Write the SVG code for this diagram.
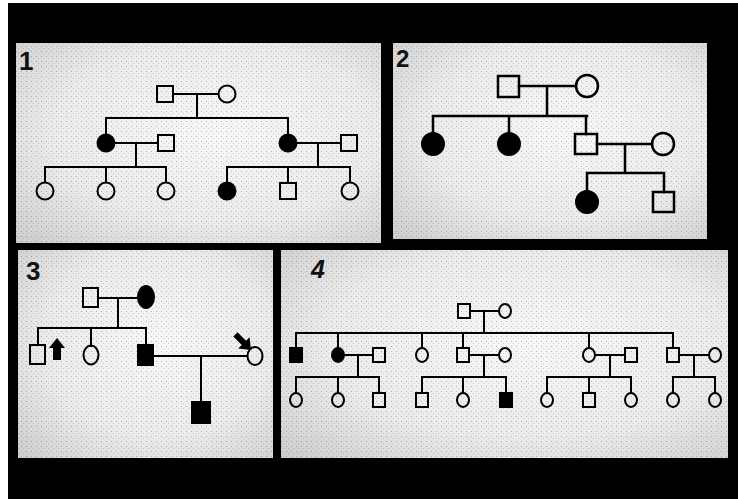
<svg xmlns="http://www.w3.org/2000/svg" width="738" height="499" viewBox="0 0 738 499">
<style>
.ln{stroke:#000;stroke-width:2;fill:none;stroke-linecap:square}
.ln2{stroke:#000;stroke-width:2.5;fill:none;stroke-linecap:square}
.o{fill:none;stroke:#000;stroke-width:2}
.o2{fill:none;stroke:#000;stroke-width:2.5}
.f{fill:#000;stroke:#000;stroke-width:2}
.lbl{font-family:"Liberation Sans",Arial,sans-serif;font-weight:bold;fill:#111}
</style>
<defs>
<radialGradient id="bg" cx="0.55" cy="0.45" r="0.75">
<stop offset="0" stop-color="#f7f7f7"/>
<stop offset="0.6" stop-color="#ebebeb"/>
<stop offset="1" stop-color="#cfcfcf"/>
</radialGradient>
<pattern id="dots" width="5" height="5" patternUnits="userSpaceOnUse">
<rect x="1" y="1" width="1" height="1" fill="#000" opacity="0.25"/>
<rect x="3" y="3" width="1" height="1" fill="#000" opacity="0.15"/>
</pattern>
</defs>
<rect width="738" height="499" fill="#fff"/>
<rect x="8" y="3" width="730" height="496" fill="#000"/>
<g id="panels">
<rect x="16" y="43" width="365" height="200" fill="url(#bg)"/>
<rect x="393" y="43" width="314" height="196" fill="url(#bg)"/>
<rect x="18" y="250" width="255" height="208" fill="url(#bg)"/>
<rect x="281" y="250" width="447" height="208" fill="url(#bg)"/>
<rect x="16" y="43" width="365" height="200" fill="url(#dots)"/>
<rect x="393" y="43" width="314" height="196" fill="url(#dots)"/>
<rect x="18" y="250" width="255" height="208" fill="url(#dots)"/>
<rect x="281" y="250" width="447" height="208" fill="url(#dots)"/>
</g>
<g id="labels">
<text class="lbl" x="19" y="70" font-size="26">1</text>
<text class="lbl" x="396" y="67" font-size="24">2</text>
<text class="lbl" x="26" y="280" font-size="26">3</text>
<text class="lbl" x="311" y="278" font-size="25" font-style="italic">4</text>
</g>
<g id="connectors">
<path class="ln" d="M173,94H218M197,94V118M106,118H288M106,118V134M288,118V134"/>
<path class="ln" d="M114,143H158M136,143V167M45,167H166M45,167V182M106,167V182M166,167V182"/>
<path class="ln" d="M296,143H341M318,143V167M227,167H350M227,167V182M288,167V183M350,167V182"/>
<path class="ln2" d="M519,86H576M547,86V116M433,116H587M433,116V133M509,116V133M586,116V134"/>
<path class="ln2" d="M597,144H652M625,144V173M587,173H664M587,173V191M664,173V192"/>
<path class="ln" d="M98,298H138M118,298V328M38,328H146M38,328V345M91,328V346M146,328V345"/>
<path class="ln" d="M153,356H247M201,356V402"/>
<path class="ln" d="M470,311H499M484,311V333M296,333H673M296,333V348M338,333V348M422,333V348M463,333V348M589,333V348M673,333V348"/>
<path class="ln" d="M344,355H373M358,355V377M296,377H379M296,377V393M338,377V393M379,377V393"/>
<path class="ln" d="M469,355H499M484,355V377M422,377H506M422,377V393M463,377V393M506,377V393"/>
<path class="ln" d="M595,355H625M610,355V377M547,377H631M547,377V393M589,377V393M631,377V393"/>
<path class="ln" d="M679,355H709M694,355V377M673,377H715M673,377V393M715,377V393"/>
</g>
<g id="p1-gf"><rect class="o" x="157" y="86" width="16" height="16"/></g>
<g id="p1-gm"><circle class="o" cx="227" cy="94" r="8.5"/></g>
<g id="p1-d1"><circle class="f" cx="106" cy="143" r="8.5"/></g>
<g id="p1-h1"><rect class="o" x="158" y="135" width="16" height="16"/></g>
<g id="p1-d2"><circle class="f" cx="288" cy="143" r="8.5"/></g>
<g id="p1-h2"><rect class="o" x="341" y="135" width="16" height="16"/></g>
<g id="p1-c1"><circle class="o" cx="45" cy="191" r="8.5"/></g>
<g id="p1-c2"><circle class="o" cx="106" cy="191" r="8.5"/></g>
<g id="p1-c3"><circle class="o" cx="166" cy="191" r="8.5"/></g>
<g id="p1-c4"><circle class="f" cx="227" cy="191" r="8.5"/></g>
<g id="p1-c5"><rect class="o" x="280" y="183" width="16" height="16"/></g>
<g id="p1-c6"><circle class="o" cx="350" cy="191" r="8.5"/></g>
<g id="p2-gf"><rect class="o2" x="498" y="76" width="21" height="21"/></g>
<g id="p2-gm"><circle class="o2" cx="587" cy="86" r="11"/></g>
<g id="p2-d1"><circle class="f" cx="433" cy="144" r="11"/></g>
<g id="p2-d2"><circle class="f" cx="509" cy="144" r="11"/></g>
<g id="p2-s1"><rect class="o2" x="575" y="134" width="22" height="20"/></g>
<g id="p2-w1"><circle class="o2" cx="663" cy="144" r="11"/></g>
<g id="p2-c1"><circle class="f" cx="587" cy="202" r="11"/></g>
<g id="p2-c2"><rect class="o2" x="653" y="192" width="21" height="20"/></g>
<g id="p3-f"><rect class="o" x="83" y="288" width="15" height="19"/></g>
<g id="p3-m"><ellipse class="f" cx="146" cy="297" rx="8" ry="11"/></g>
<g id="p3-s1"><rect class="o" x="30" y="345" width="15" height="19"/></g>
<g id="p3-arrow1"><polygon fill="#000" points="57,338 65,348 61,348 61,360 53,360 53,348 49,348"/></g>
<g id="p3-d1"><ellipse class="o" cx="91" cy="355" rx="7.5" ry="9.5"/></g>
<g id="p3-s2"><rect class="f" x="138" y="345" width="15" height="20"/></g>
<g id="p3-w"><ellipse class="o" cx="255" cy="356" rx="7.5" ry="9"/></g>
<g id="p3-arrow2"><polygon fill="#000" transform="translate(251,350) rotate(45)" points="0,0 -10,-8 -10,-3 -22,-3 -22,3 -10,3 -10,8"/></g>
<g id="p3-c"><rect class="f" x="192" y="402" width="18" height="21"/></g>
<g id="p4-gf"><rect class="o" x="458" y="304" width="12" height="14"/></g>
<g id="p4-gm"><ellipse class="o" cx="505" cy="311" rx="6" ry="7"/></g>
<g id="p4-a1"><rect class="f" x="290" y="348" width="12" height="14"/></g>
<g id="p4-a2"><ellipse class="f" cx="338" cy="355" rx="6" ry="7"/></g>
<g id="p4-a2h"><rect class="o" x="373" y="348" width="12" height="14"/></g>
<g id="p4-a3"><ellipse class="o" cx="422" cy="355" rx="6" ry="7"/></g>
<g id="p4-a4"><rect class="o" x="457" y="348" width="12" height="14"/></g>
<g id="p4-a4w"><ellipse class="o" cx="505" cy="355" rx="6" ry="7"/></g>
<g id="p4-a5"><ellipse class="o" cx="589" cy="355" rx="6" ry="7"/></g>
<g id="p4-a5h"><rect class="o" x="625" y="348" width="12" height="14"/></g>
<g id="p4-a6"><rect class="o" x="667" y="348" width="12" height="14"/></g>
<g id="p4-a6w"><ellipse class="o" cx="715" cy="355" rx="6" ry="7"/></g>
<g id="p4-b1"><ellipse class="o" cx="296" cy="400" rx="6" ry="7"/></g>
<g id="p4-b2"><ellipse class="o" cx="338" cy="400" rx="6" ry="7"/></g>
<g id="p4-b3"><rect class="o" x="373" y="393" width="12" height="14"/></g>
<g id="p4-b4"><rect class="o" x="416" y="393" width="12" height="14"/></g>
<g id="p4-b5"><ellipse class="o" cx="463" cy="400" rx="6" ry="7"/></g>
<g id="p4-b6"><rect class="f" x="500" y="393" width="12" height="14"/></g>
<g id="p4-b7"><ellipse class="o" cx="547" cy="400" rx="6" ry="7"/></g>
<g id="p4-b8"><rect class="o" x="583" y="393" width="12" height="14"/></g>
<g id="p4-b9"><ellipse class="o" cx="631" cy="400" rx="6" ry="7"/></g>
<g id="p4-b10"><ellipse class="o" cx="673" cy="400" rx="6" ry="7"/></g>
<g id="p4-b11"><ellipse class="o" cx="715" cy="400" rx="6" ry="7"/></g>
</svg>
